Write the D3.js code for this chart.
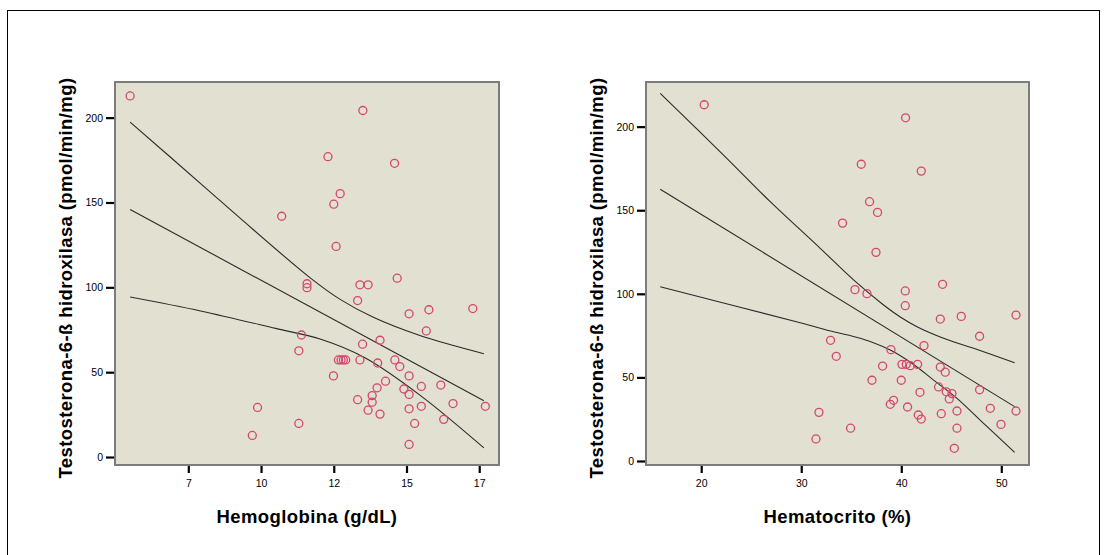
<!DOCTYPE html>
<html>
<head>
<meta charset="utf-8">
<script src="https://cdn.jsdelivr.net/npm/d3@7"></script>
<style>
	body { margin: 0; background: #fff; }
	svg { display: block; }
	.tick text { font-family: "Liberation Sans", Arial, sans-serif; font-size: 10.5px; fill: #000; }
	.title { font-family: "Liberation Sans", Arial, sans-serif; font-weight: bold; font-size: 18.5px; fill: #000; }
</style>
</head>
<body>
<svg id="chart"></svg>
<script>
// Hemoglobina panel
var hbX = [5.50, 12.30, 13.50, 14.59, 12.72, 12.50, 10.71, 12.58, 14.68, 11.58, 11.58, 13.40, 13.68, 13.32,
	15.09, 15.77, 17.28, 15.68, 14.09, 13.49, 11.39, 11.30, 12.66, 12.75, 12.83, 12.91, 13.40, 14.01, 14.60,
	14.77, 15.09, 12.49, 14.28, 13.99, 14.91, 15.51, 16.18, 15.09, 13.82, 13.82, 13.32, 13.68, 14.09, 15.09,
	15.51, 16.60, 17.71, 16.28, 15.28, 15.09, 9.88, 11.30, 9.70];
var hbY = [212.8, 177.0, 204.2, 173.1, 155.2, 149.0, 141.9, 124.1, 105.4, 102.1, 99.8, 101.5, 101.5, 92.2,
	84.4, 86.8, 87.5, 74.3, 68.8, 66.5, 71.9, 62.6, 57.2, 57.2, 57.2, 57.2, 57.2, 55.4, 57.2,
	53.3, 47.8, 47.8, 44.7, 40.8, 40.1, 41.6, 42.4, 36.9, 36.2, 32.3, 33.8, 27.6, 25.3, 28.4,
	29.9, 31.5, 29.9, 22.2, 19.8, 7.4, 29.2, 19.8, 12.7];
// fit line and 95% band
var hbFitX = [5.50, 17.66];
var hbFitY = [145.9, 33.1];
var hbUpX = [5.50, 8.10, 9.29, 11.69, 12.72, 13.86, 15.46, 17.66];
var hbUpY = [197.4, 158.5, 140.6, 105.6, 92.9, 82.3, 71.6, 60.9];
var hbLoX = [5.50, 7.92, 10.50, 12.03, 13.57, 15.46, 17.66];
var hbLoY = [94.3, 86.1, 75.8, 69.5, 58.5, 36.5, 5.4];
var hbTicks = [7.5, 10, 12.5, 15, 17.5];
var hbTickLabels = ['7', '10', '12', '15', '17'];

// Hematocrito panel
var hctX = [20.3, 40.43, 36.0, 42.0, 36.83, 37.63, 34.13, 37.47, 35.37, 36.57, 40.4, 40.4, 44.13, 43.9,
	46.0, 51.47, 47.83, 42.27, 32.93, 33.5, 38.97, 38.13, 40.07, 40.5, 40.9, 41.63, 43.9, 44.4,
	37.07, 40.0, 43.73, 44.5, 45.07, 44.8, 41.87, 47.83, 39.23, 38.9, 40.63, 41.7, 42.0, 44.0,
	45.57, 48.9, 51.47, 49.97, 45.57, 45.3, 31.77, 34.93, 31.47];
var hctY = [213.1, 205.3, 177.5, 173.4, 155.1, 148.7, 142.3, 124.8, 102.5, 100.1, 101.7, 92.9, 105.7, 84.9,
	86.5, 87.3, 74.6, 69.0, 72.2, 62.6, 66.6, 56.8, 57.8, 57.8, 57.0, 57.8, 56.2, 53.1,
	48.3, 48.3, 44.3, 41.4, 40.3, 37.1, 41.1, 42.6, 36.3, 33.9, 32.3, 27.5, 25.1, 28.3,
	29.9, 31.5, 29.9, 21.9, 19.6, 7.6, 29.1, 19.6, 13.2];
var hctFitX = [15.9, 51.33];
var hctFitY = [162.5, 32.5];
var hctUpX = [15.9, 22.23, 26.9, 31.9, 35.23, 38.23, 39.9, 41.57, 44.23, 48.23, 51.33];
var hctUpY = [219.9, 183.0, 155.1, 127.2, 108.3, 93.3, 86.1, 80.3, 73.4, 65.4, 58.8];
var hctLoX = [15.9, 29.9, 33.23, 35.9, 38.9, 41.1, 43.23, 45.57, 48.23, 51.33];
var hctLoY = [104.2, 82.7, 77.3, 73.4, 66.4, 58.3, 48.4, 37.5, 22.5, 5.2];
var hctTicks = [20, 30, 40, 50];
var hctTickLabels = ['20', '30', '40', '50'];

var yTicks = [0, 50, 100, 150, 200];
var yTickLabels = ['0', '50', '100', '150', '200'];
var yTitle = 'Testosterona-6-ß hidroxilasa (pmol/min/mg)';

var width = 1106, height = 555;

var svg = d3.select('#chart')
	.attr('width', width)
	.attr('height', height);

// outer frame
svg.append('rect')
	.attr('x', 7.5)
	.attr('y', 10.5)
	.attr('width', 1092)
	.attr('height', 570)
	.attr('fill', 'none')
	.attr('stroke', '#000')
	.attr('stroke-width', 1);

function zip(xs, ys) {
	return xs.map(function(x, i) {
		return [x, ys[i]];
	});
}

function drawPanel(p) {
	var x = d3.scaleLinear().domain(p.xDomain).range([p.left, p.right]);
	var y = d3.scaleLinear().domain(p.yDomain).range([p.bottom, p.top]);

	var g = svg.append('g');

	g.append('rect')
		.attr('x', p.left)
		.attr('y', p.top)
		.attr('width', p.right - p.left)
		.attr('height', p.bottom - p.top)
		.attr('fill', '#e2e0d0');

	var line = d3.line()
		.x(function(d) { return x(d[0]); })
		.y(function(d) { return y(d[1]); })
		.curve(d3.curveCatmullRom.alpha(0.5));

	[zip(p.upX, p.upY), zip(p.fitX, p.fitY), zip(p.loX, p.loY)].forEach(function(pts) {
		g.append('path')
			.attr('d', line(pts))
			.attr('fill', 'none')
			.attr('stroke', '#2a2a2a')
			.attr('stroke-width', 1.1);
	});

	g.selectAll('.pt').data(zip(p.xs, p.ys))
		.enter()
		.append('circle')
		.attr('class', 'pt')
		.attr('cx', function(d) { return x(d[0]); })
		.attr('cy', function(d) { return y(d[1]); })
		.attr('r', 4)
		.attr('fill', 'none')
		.attr('stroke', '#d4466f')
		.attr('stroke-width', 1.3);

	// plot frame
	g.append('rect')
		.attr('x', p.left)
		.attr('y', p.top)
		.attr('width', p.right - p.left)
		.attr('height', p.bottom - p.top)
		.attr('fill', 'none')
		.attr('stroke', '#7c7c7c')
		.attr('stroke-width', 2);

	var xAxis = d3.axisBottom(x)
		.tickValues(p.xTicks)
		.tickFormat(function(d, i) { return p.xTickLabels[i]; })
		.tickSize(7)
		.tickPadding(7);

	var yAxis = d3.axisLeft(y)
		.tickValues(yTicks)
		.tickFormat(function(d, i) { return yTickLabels[i]; })
		.tickSize(8)
		.tickPadding(3);

	var xa = g.append('g')
		.attr('transform', 'translate(0,' + (p.bottom + 1) + ')')
		.call(xAxis);
	var ya = g.append('g')
		.attr('transform', 'translate(' + (p.left - 1) + ',0)')
		.call(yAxis);

	[xa, ya].forEach(function(a) {
		a.select('.domain').remove();
		a.selectAll('.tick line').attr('stroke', '#000').attr('stroke-width', 2.2);
	});

	g.append('text')
		.attr('class', 'title')
		.attr('x', (p.left + p.right) / 2)
		.attr('y', 523)
		.attr('text-anchor', 'middle')
		.attr('letter-spacing', 0.4)
		.text(p.xTitle);

	g.append('text')
		.attr('class', 'title')
		.attr('transform', 'translate(' + (p.left - 43) + ',' + 278 + ') rotate(-90)')
		.attr('text-anchor', 'middle')
		.attr('letter-spacing', 0.4)
		.text(yTitle);
}

drawPanel({
	left: 115, right: 499, top: 82, bottom: 465,
	xDomain: [4.98, 18.18], yDomain: [-4.7, 221],
	xs: hbX, ys: hbY,
	fitX: hbFitX, fitY: hbFitY, upX: hbUpX, upY: hbUpY, loX: hbLoX, loY: hbLoY,
	xTicks: hbTicks, xTickLabels: hbTickLabels,
	xTitle: 'Hemoglobina (g/dL)'
});

drawPanel({
	left: 646, right: 1029, top: 82, bottom: 465,
	xDomain: [14.48, 52.77], yDomain: [-2.4, 226.7],
	xs: hctX, ys: hctY,
	fitX: hctFitX, fitY: hctFitY, upX: hctUpX, upY: hctUpY, loX: hctLoX, loY: hctLoY,
	xTicks: hctTicks, xTickLabels: hctTickLabels,
	xTitle: 'Hematocrito (%)'
});
</script>
</body>
</html>
